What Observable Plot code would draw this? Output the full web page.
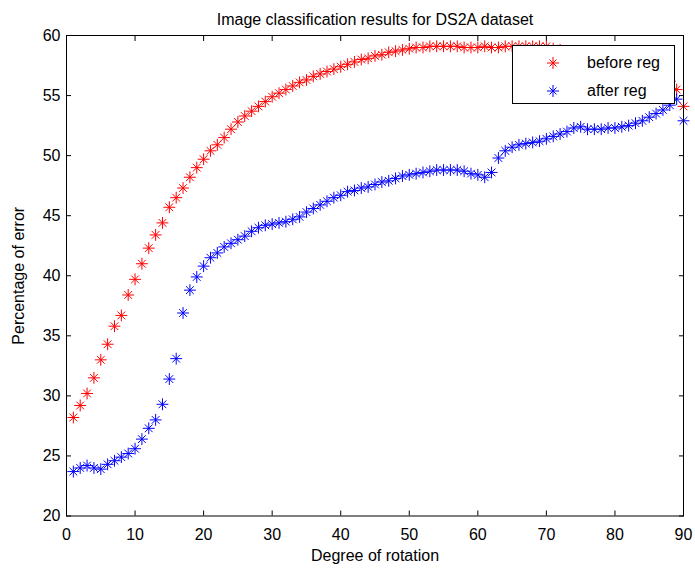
<!DOCTYPE html>
<html><head><meta charset="utf-8">
<script src="https://cdn.jsdelivr.net/npm/d3@7"></script>
<script src="https://cdn.jsdelivr.net/npm/@observablehq/plot@0.6"></script>
<style>
body{margin:0;background:#fff;}
#wrap{position:relative;width:695px;height:569px;font-family:Arial,"Liberation Sans",sans-serif;}
#legend{position:absolute;left:512px;top:45px;width:163px;height:59px;border:1px solid #000;background:#fff;box-sizing:border-box;}
#legend .row{position:absolute;left:0;height:20px;width:100%;}
#legend svg{position:absolute;left:28px;top:0;}
#legend span{position:absolute;left:74px;top:0;font-size:16px;line-height:20px;color:#000;}
</style></head><body><div id="wrap"></div>
<script>
const chartTitle = "Image classification results for DS2A dataset";
const xLabel = "Degree of rotation";
const yLabel = "Percentage of error";
const seriesNames = ["before reg", "after reg"];
const seriesColors = ["#ff0000", "#0000ff"];
const xTicks = [0, 10, 20, 30, 40, 50, 60, 70, 80, 90];
const yTicks = [20, 25, 30, 35, 40, 45, 50, 55, 60];
const degrees = [1,2,3,4,5,6,7,8,9,10,11,12,13,14,15,16,17,18,19,20,21,22,23,24,25,26,27,28,29,30,
  31,32,33,34,35,36,37,38,39,40,41,42,43,44,45,46,47,48,49,50,51,52,53,54,55,56,57,58,59,60,
  61,62,63,64,65,66,67,68,69,70,71,72,73,74,75,76,77,78,79,80,81,82,83,84,85,86,87,88,89,90];
const beforeReg = [28.2,29.2,30.2,31.5,33.0,34.3,35.8,36.7,38.4,39.7,
  41.0,42.3,43.4,44.4,45.7,46.5,47.3,48.2,49.0,49.7,
  50.4,50.9,51.5,52.2,52.8,53.3,53.7,54.1,54.5,54.9,
  55.2,55.5,55.8,56.1,56.3,56.6,56.8,57.0,57.2,57.4,
  57.6,57.8,58.0,58.1,58.3,58.4,58.6,58.7,58.8,58.9,
  59.0,59.0,59.1,59.1,59.1,59.1,59.1,59.0,59.0,59.0,
  59.1,59.0,59.0,59.1,59.1,59.1,59.1,59.1,59.1,59.1,
  58.9,58.8,58.7,58.7,58.6,58.6,58.5,58.5,58.4,58.4,
  58.3,58.2,58.0,57.8,57.5,57.2,56.8,56.2,55.5,54.1];
const afterReg = [23.7,24.0,24.2,24.0,23.9,24.3,24.6,24.9,25.2,25.6,
  26.4,27.3,28.0,29.3,31.4,33.1,36.9,38.8,39.9,40.8,
  41.5,41.9,42.4,42.7,43.0,43.3,43.7,44.0,44.2,44.3,
  44.4,44.5,44.7,44.9,45.3,45.6,45.9,46.2,46.5,46.7,
  47.0,47.1,47.3,47.4,47.6,47.8,47.9,48.1,48.3,48.4,
  48.5,48.6,48.7,48.8,48.8,48.8,48.8,48.7,48.5,48.4,
  48.2,48.6,49.8,50.4,50.7,50.9,51.0,51.1,51.2,51.4,
  51.6,51.8,52.0,52.3,52.4,52.2,52.2,52.2,52.3,52.3,
  52.4,52.5,52.7,52.9,53.2,53.5,53.8,54.2,54.7,52.9];

const rows = [];
degrees.forEach((d, i) => rows.push({deg: d, value: beforeReg[i], series: seriesNames[0]}));
degrees.forEach((d, i) => rows.push({deg: d, value: afterReg[i], series: seriesNames[1]}));

const plot = Plot.plot({
  width: 695, height: 569,
  marginLeft: 66, marginRight: 12, marginTop: 35, marginBottom: 53.5,
  x: {domain: [0, 90]},
  y: {domain: [20, 60]},
  color: {domain: seriesNames, range: seriesColors},
  style: {fontFamily: "Arial, 'Liberation Sans', sans-serif", fontSize: "16px", background: "#fff", color: "#000"},
  marks: [
    Plot.axisX(xTicks, {anchor: "bottom", tickSize: -5, tickPadding: 18, label: xLabel, labelArrow: "none", labelAnchor: "center", labelOffset: 45, fontSize: 16}),
    Plot.axisX(xTicks, {anchor: "top", tickSize: -5, tickFormat: () => "", label: null}),
    Plot.axisY(yTicks, {anchor: "left", tickSize: -5, tickPadding: 11, label: yLabel, labelArrow: "none", labelAnchor: "center", labelOffset: 54, fontSize: 16}),
    Plot.axisY(yTicks, {anchor: "right", tickSize: -5, tickFormat: () => "", label: null}),
    Plot.dot(rows, {x: "deg", y: "value", stroke: "series", symbol: "plus", r: 3.9, strokeWidth: 1}),
    Plot.dot(rows, {x: "deg", y: "value", stroke: "series", symbol: "times", r: 3.6, strokeWidth: 1}),
    Plot.frame({stroke: "#000"}),
    Plot.text([chartTitle], {frameAnchor: "top", dy: -22, fontSize: 16})
  ]
});
const wrap = document.getElementById("wrap");
wrap.appendChild(plot);

const legend = document.createElement("div");
legend.id = "legend";
seriesNames.forEach((name, i) => {
  const row = document.createElement("div");
  row.className = "row";
  row.style.top = (7 + i * 28) + "px";
  const c = seriesColors[i];
  row.innerHTML = `<svg width="24" height="20"><g stroke="${c}" stroke-width="1"><line x1="6" y1="10" x2="18" y2="10"/><line x1="12" y1="4" x2="12" y2="16"/><line x1="8.5" y1="6.5" x2="15.5" y2="13.5"/><line x1="8.5" y1="13.5" x2="15.5" y2="6.5"/></g></svg><span>${name}</span>`;
  legend.appendChild(row);
});
wrap.appendChild(legend);
</script></body></html>
